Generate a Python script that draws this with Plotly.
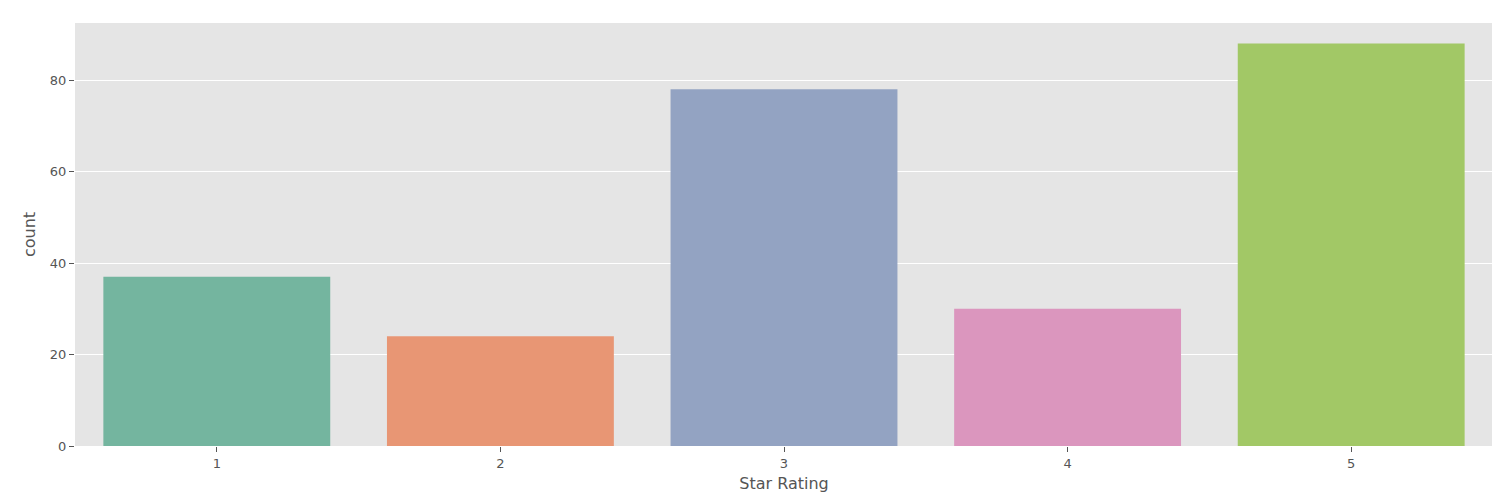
import plotly.graph_objects as go

ratings = ["1", "2", "3", "4", "5"]
counts = [37, 24, 78, 30, 88]
bar_colors = ["#74b59f", "#e89674", "#93a3c2", "#db96be", "#a2c866"]

fig = go.Figure(go.Bar(x=ratings, y=counts, marker_color=bar_colors,
                       marker_line_width=0, width=0.8))

fig.update_layout(
    width=1500, height=500,
    margin=dict(l=67, r=15, t=15, b=62),
    plot_bgcolor="#e5e5e5", paper_bgcolor="white",
    font=dict(family="DejaVu Sans", color="#555555", size=13),
    showlegend=False,
)
fig.update_xaxes(title_text="Star Rating", title_font_size=16, showgrid=False,
                 ticks="outside", tickcolor="#555555", ticklen=5,
                 range=[-0.5, 4.5], title_standoff=8)
fig.update_yaxes(title_text="count", title_font_size=16, gridcolor="white",
                 range=[0, 92.5], dtick=20, ticks="outside",
                 tickcolor="#555555", ticklen=5, zeroline=False, title_standoff=10)

fig.write_html("out.html")
